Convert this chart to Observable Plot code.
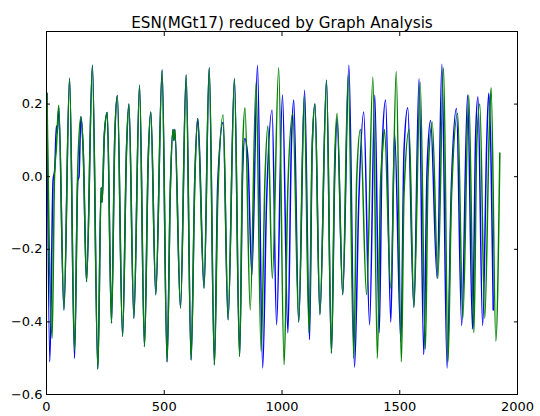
<!DOCTYPE html>
<html><head><meta charset="utf-8">
<script src="https://cdn.jsdelivr.net/npm/d3@7"></script>
<script src="https://cdn.jsdelivr.net/npm/@observablehq/plot@0.6"></script>
<style>body{margin:0;background:#fff;} svg{display:block}</style>
</head><body><div id="chart"></div>
<script>
const title = "ESN(MGt17) reduced by Graph Analysis";
const xTicks = [0, 500, 1000, 1500, 2000];
const yTicks = [-0.6, -0.4, -0.2, 0.0, 0.2];

// [time step, value] (extrema and shoulders)
const blueSeries = [
  [2,0.23],[14,-0.51],[28,-0.01],[35,0.02],[42,0.14],[46,0.12],[52,0.19],[74,-0.367],[98,0.271],[119,-0.5],
  [133,-0.01],[138,0.0],[146,0.165],[156,0.07],[170,-0.289],[195,0.307],[218,-0.53],[232,-0.03],[236,-0.07],[246,0.12],
  [258,0.177],[276,-0.403],[290,0.11],[301,0.224],[323,-0.44],[340,0.081],[350,0.2],[371,-0.39],[395,0.252],[416,-0.468],
  [432,0.05],[443,0.178],[464,-0.325],[491,0.294],[512,-0.51],[526,-0.03],[537,0.13],[541,0.10],[545,0.13],[569,-0.362],
  [593,0.28],[614,-0.505],[630,0.0],[642,0.16],[648,0.1],[669,-0.307],[691,0.3],[713,-0.518],[727,-0.02],[750,0.15],
  [771,-0.394],[798,0.27],[820,-0.495],[833,0.014],[842,0.105],[855,0.053],[872,-0.27],[896,0.307],[918,-0.527],[934,-0.08],
  [958,0.183],[977,-0.408],[1002,0.225],[1025,-0.43],[1040,0.09],[1050,0.211],[1071,-0.4],[1096,0.238],[1117,-0.449],[1128,0.073],
  [1140,0.2],[1161,-0.38],[1189,0.266],[1210,-0.486],[1224,0.009],[1234,0.16],[1258,-0.325],[1284,0.307],[1308,-0.525],[1326,-0.07],
  [1347,0.178],[1372,-0.408],[1394,0.225],[1413,-0.43],[1425,0.07],[1440,0.211],[1462,-0.4],[1478,0.12],[1505,-0.454],[1518,0.07],
  [1534,0.19],[1560,-0.36],[1582,0.27],[1602,-0.49],[1616,0.02],[1631,0.155],[1659,-0.28],[1679,0.31],[1701,-0.527],[1719,-0.03],
  [1741,0.188],[1763,-0.41],[1788,0.225],[1809,-0.42],[1822,0.105],[1832,0.22],[1852,-0.41],[1870,0.11],[1878,0.23],[1897,-0.367]
];
const greenSeries = [
  [2,0.23],[24,-0.445],[34,0.0],[42,0.08],[52,0.197],[74,-0.367],[98,0.271],[119,-0.48],[133,0.03],[146,0.165],
  [156,0.07],[170,-0.289],[195,0.307],[218,-0.53],[232,-0.03],[236,-0.07],[246,0.12],[258,0.177],[276,-0.403],[290,0.11],
  [301,0.224],[323,-0.44],[340,0.081],[350,0.2],[371,-0.39],[395,0.252],[416,-0.468],[432,0.05],[443,0.178],[464,-0.325],
  [491,0.294],[512,-0.51],[526,-0.03],[537,0.13],[541,0.10],[545,0.13],[569,-0.362],[593,0.28],[614,-0.505],[630,0.0],
  [642,0.16],[669,-0.307],[691,0.3],[713,-0.518],[727,-0.07],[750,0.17],[771,-0.394],[798,0.27],[820,-0.495],[833,0.074],
  [843,0.19],[865,-0.367],[890,0.26],[911,-0.48],[928,0.0],[940,0.14],[959,-0.28],[986,0.3],[1009,-0.518],[1025,-0.03],
  [1046,0.174],[1071,-0.4],[1094,0.22],[1115,-0.43],[1128,0.08],[1140,0.2],[1161,-0.38],[1189,0.266],[1210,-0.486],[1224,0.05],
  [1234,0.174],[1258,-0.325],[1281,0.28],[1305,-0.5],[1317,-0.01],[1333,0.13],[1359,-0.325],[1386,0.275],[1405,-0.5],[1418,-0.03],
  [1428,0.08],[1435,0.13],[1462,-0.307],[1485,0.29],[1507,-0.51],[1518,-0.05],[1540,0.13],[1560,-0.36],[1587,0.26],[1609,-0.475],
  [1620,0.0],[1638,0.15],[1662,-0.28],[1686,0.3],[1705,-0.51],[1719,-0.07],[1746,0.174],[1768,-0.39],[1793,0.225],[1815,-0.43],
  [1827,0.09],[1840,0.2],[1861,-0.39],[1880,0.12],[1888,0.245],[1908,-0.453],[1925,0.065]
];

const fmtY = d3.format(".1f");
const chart = Plot.plot({
  width: 540, height: 416,
  marginLeft: 46, marginRight: 23, marginTop: 31, marginBottom: 22,
  style: {fontFamily: "DejaVu Sans", background: "#fff", color: "#000", overflow: "visible"},
  x: {domain: [0, 2000]},
  y: {domain: [-0.6, 0.4]},
  marks: [
    Plot.line(blueSeries, {x: d => d[0], y: d => d[1], stroke: "#0000ff", strokeWidth: 1.5, curve: "monotone-x"}),
    Plot.line(greenSeries, {x: d => d[0], y: d => d[1], stroke: "#008000", strokeWidth: 1.5, curve: "monotone-x"}),
    Plot.frame({stroke: "#000", strokeWidth: 1}),
    Plot.axisX(xTicks, {anchor: "bottom", tickSize: 0, tickPadding: 7, fontSize: 13, tickFormat: d => String(d), label: null}),
    Plot.axisX(xTicks, {anchor: "bottom", tickSize: -4, fill: "none", label: null}),
    Plot.axisX(xTicks, {anchor: "top", tickSize: -4, fill: "none", label: null}),
    Plot.axisY(yTicks, {anchor: "left", tickSize: 0, tickPadding: 4, fontSize: 13, tickFormat: fmtY, label: null}),
    Plot.axisY(yTicks, {anchor: "left", tickSize: -4, fill: "none", label: null}),
    Plot.axisY(yTicks, {anchor: "right", tickSize: -4, fill: "none", label: null}),
    Plot.text([title], {text: d => d, frameAnchor: "top", lineAnchor: "bottom", dy: -4, fontSize: 15.2, fill: "#000"})
  ]
});
document.getElementById("chart").appendChild(chart);
</script>
</body></html>
